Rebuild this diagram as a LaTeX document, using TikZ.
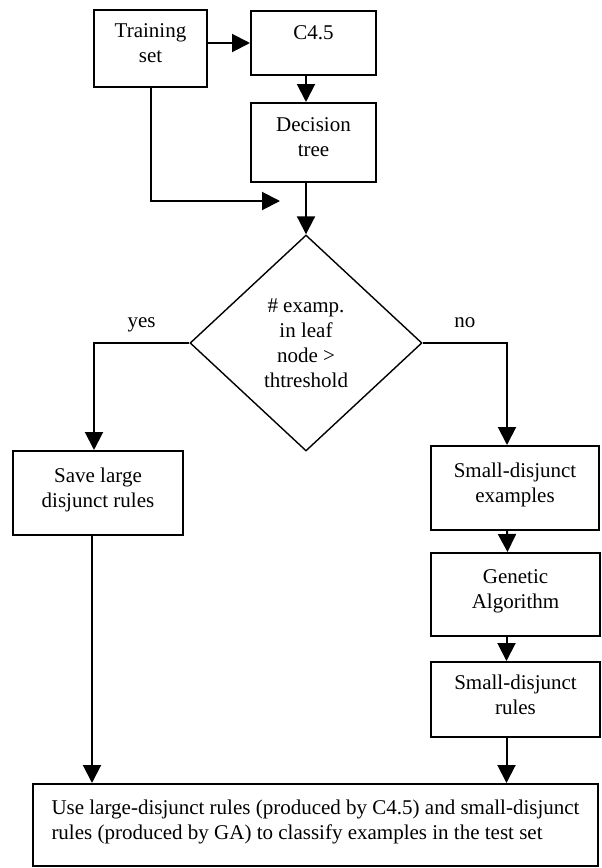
\documentclass[tikz,border=0pt]{standalone}
\usepackage{fontspec}
\setmainfont{Liberation Serif}
\usetikzlibrary{shapes.geometric,arrows.meta}

\begin{document}
\begin{tikzpicture}[x=0.5pt, y=-0.5pt,
		font=\fontsize{10.5}{12.5}\selectfont,
		box/.style={draw, line width=1pt, align=center, inner sep=0pt, text depth=5pt},
		link/.style={line width=1pt, -{Triangle[length=9pt,width=9pt]}}]
	\useasboundingbox (0,0) rectangle (601,868);
	% boxes
	\node[box, minimum width=56.5pt, minimum height=38.5pt] (train) at (150.5,48.5) {Training\\set};
	\node[box, minimum width=62.5pt, minimum height=32pt, text depth=10pt] (c45) at (313.5,43) {C4.5};
	\node[box, minimum width=62.5pt, minimum height=39.5pt] (dtree) at (313.5,142.5) {Decision\\tree};
	\node[draw, diamond, line width=0.7pt, align=center, inner sep=0pt,
		minimum width=116pt, minimum height=108pt] (test) at (306,343) {\# examp.\\in leaf\\node >\\thtreshold};
	\node[box, minimum width=85pt, minimum height=42pt] (save) at (98,493) {Save large\\disjunct rules};
	\node[box, minimum width=84pt, minimum height=42pt] (sdex) at (515,488) {Small-disjunct\\examples};
	\node[box, minimum width=84.5pt, minimum height=41.5pt] (ga) at (515.5,594.5) {Genetic\\Algorithm};
	\node[box, minimum width=84.5pt, minimum height=37.5pt] (sdrules) at (515.5,699.5) {Small-disjunct\\rules};
	\node[box, align=left, minimum width=282.5pt, minimum height=41pt] (use) at (315.5,825)
		{Use large-disjunct rules (produced by C4.5) and small-disjunct\\rules (produced by GA) to classify examples in the test set};
	\coordinate (join) at (280,201);
	% arrows
	\draw[link] (train.east |- c45.west) -- (c45.west);
	\draw[link] (c45.south -| test.north) -- (dtree.north -| test.north);
	\draw[link] (train.south) |- (join);
	\draw[link] (dtree.south -| test.north) -- (test.north);
	\draw[link] (test.west) -| node[pos=0.25, anchor=base, yshift=8pt] (yes) {yes} ([xshift=-2pt]save.north);
	\draw[link] (test.east) -| node[pos=0.25, anchor=base, yshift=8pt] (no) {no} ([xshift=-4pt]sdex.north);
	\draw[link] ([xshift=-4pt]sdex.south) -- ([xshift=-4pt]ga.north);
	\draw[link] ([xshift=-4.5pt]ga.south) -- ([xshift=-4.5pt]sdrules.north);
	\draw[link] ([xshift=-3pt]save.south) -- ([xshift=-3pt]save.south |- use.north);
	\draw[link] ([xshift=-4.5pt]sdrules.south) -- ([xshift=-4.5pt]sdrules.south |- use.north);
\end{tikzpicture}
\end{document}
